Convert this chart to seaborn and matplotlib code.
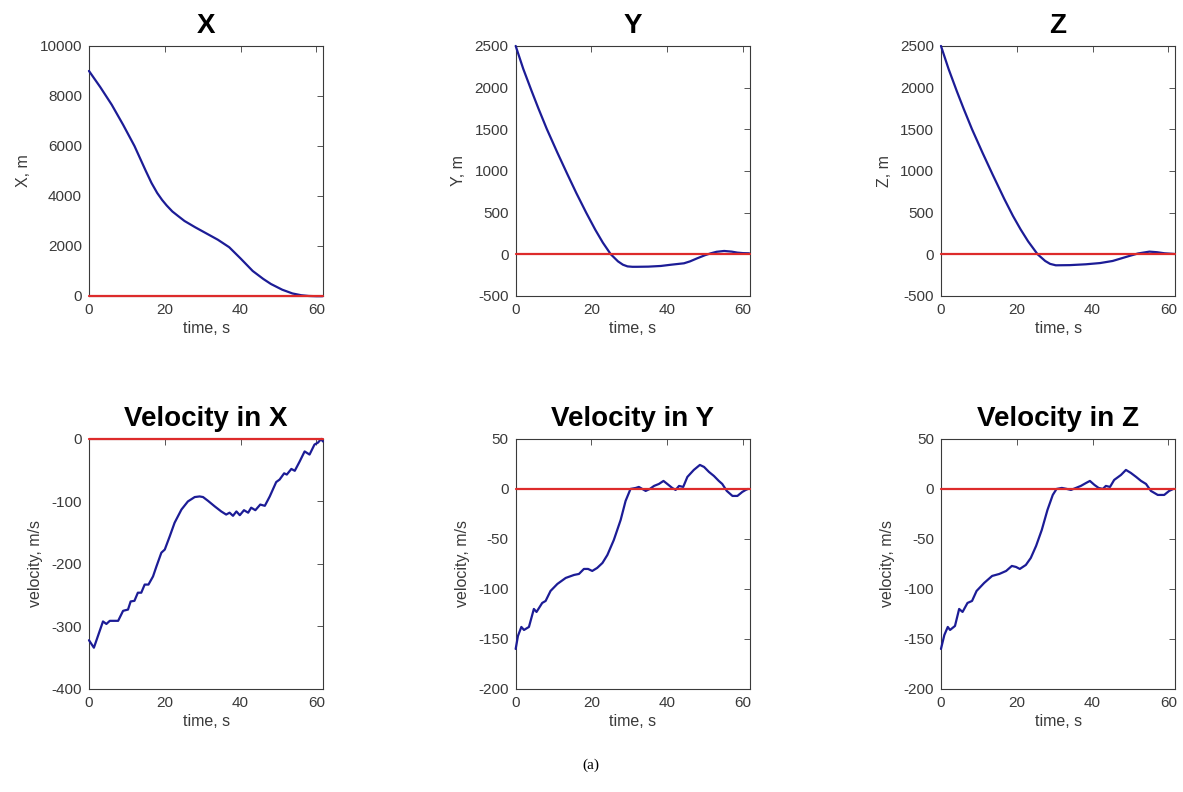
import matplotlib
matplotlib.use("Agg")
import matplotlib.pyplot as plt
import seaborn as sns

# ── position, m ──────────────────────────────────────────────────────────────
PX_T = [0, 3, 6, 9, 12, 15, 16.5, 18, 19.3, 20.5, 22, 23.5, 25.2, 28, 31, 34,
        37, 40, 43.2, 46, 48, 51, 53.7, 56, 58, 60, 61.6]
PX = [9000, 8350, 7650, 6850, 6000, 5000, 4520, 4120, 3840, 3620, 3380, 3200,
      3000, 2750, 2500, 2250, 1950, 1500, 1000, 680, 480, 250, 100, 30, 0,
      -10, -10]

PY_T = [0, 2, 4.2, 6, 8.2, 11, 13.6, 16, 18.6, 21, 23, 25.1, 27, 28.3, 29.5,
        30.8, 32, 35, 38.3, 41, 44.4, 46, 47.9, 50, 51.5, 53, 55, 57, 58.5,
        60, 61.6]
PY = [2500, 2225, 1960, 1750, 1505, 1220, 965, 735, 500, 295, 140, 0, -85,
      -125, -145, -150, -150, -148, -140, -125, -108, -85, -48, -10, 12, 30,
      40, 32, 20, 14, 12]

PZ_T = [0, 2, 4.2, 6, 8.2, 11, 13.6, 16.7, 19, 21, 23, 25.5, 27.5, 28.8,
        30.3, 34, 38.2, 42, 45.3, 47.5, 49.7, 52, 55, 57, 59, 61.6]
PZ = [2500, 2225, 1955, 1745, 1500, 1215, 960, 665, 460, 300, 155, 0, -80,
      -115, -132, -130, -120, -105, -80, -50, -20, 10, 32, 25, 12, 4]

# ── velocity, m/s ────────────────────────────────────────────────────────────
VX_T = [0, 1.3, 3.7, 4.6, 5.5, 7.7, 9, 10.3, 11, 12, 12.9, 13.8, 14.7, 15.7,
        16.9, 17.8, 19.1, 20, 21.3, 22.6, 24.4, 26.1, 27.9, 29.2, 30.1, 31.4,
        33.2, 34.9, 36.2, 37.1, 38, 38.9, 39.8, 40.9, 42, 42.8, 43.9, 45.2,
        46.4, 47.7, 49.4, 50.3, 51.5, 52.2, 53.4, 54.3, 55.6, 56.9, 58.2,
        59.5, 60.4, 61.3, 61.7]
VX = [-322, -334, -292, -296, -291, -291, -275, -273, -260, -259, -246, -246,
      -233, -233, -220, -204, -182, -177, -156, -134, -113, -100, -93, -92,
      -93, -99, -108, -116, -121, -118, -123, -116, -122, -114, -118, -110,
      -114, -105, -107, -92, -69, -65, -55, -57, -48, -51, -36, -20, -25, -9,
      -6, 0, -4]

VY_T = [0, 0.6, 1.5, 2.2, 3.5, 4.8, 5.5, 7, 7.9, 9.2, 11, 13.2, 15.4, 16.7,
        18, 19.1, 20.2, 21.5, 22.9, 24.2, 25.9, 27.7, 29, 30.3, 31.7, 32.5,
        33.4, 34.3, 35.4, 36.5, 37.8, 39, 40, 41.3, 42.2, 43.1, 44.2, 45.3,
        47, 48.6, 49.7, 51, 52.3, 53.6, 54.5, 55.7, 57.2, 58.5, 59.8, 60.7,
        61.3]
VY = [-160, -147, -138, -141, -138, -120, -123, -114, -112, -102, -95, -89,
      -86, -85, -80, -80, -82, -79, -74, -66, -51, -31, -12, 0, 1, 2, 0, -2,
      0, 3, 5, 8, 5, 1, -1, 3, 2, 12, 19, 24, 22, 17, 13, 8, 5, -2, -7, -7,
      -3, -1, 0]

VZ_T = [0, 0.9, 1.8, 2.4, 3.7, 4.8, 5.7, 7, 8.2, 9.4, 11.4, 13.5, 15.4, 17.2,
        18.7, 19.8, 20.8, 22.4, 23.7, 25.1, 26.6, 28.1, 29.5, 30.5, 31.9,
        33.2, 34.3, 35.6, 36.9, 38.3, 39.3, 40.5, 41.6, 42.7, 43.5, 44.6,
        45.7, 47.5, 48.8, 50.1, 51.5, 52.8, 54.1, 55.4, 57.2, 58.9, 60.2,
        61.3]
VZ = [-160, -146, -138, -141, -137, -120, -123, -114, -112, -102, -94, -87,
      -85, -82, -77, -78, -80, -76, -69, -57, -41, -21, -6, 0, 1, 0, -1, 1, 3,
      6, 8, 4, 1, 0, 3, 2, 9, 14, 19, 16, 12, 8, 5, -2, -6, -6, -2, 0]

# ── reference (target) line ──────────────────────────────────────────────────
REF_T = [0, 61.8]
REF = [0, 0]

TITLES = ["X", "Y", "Z", "Velocity in X", "Velocity in Y", "Velocity in Z"]
YLABELS = ["X, m", "Y, m", "Z, m", "velocity, m/s", "velocity, m/s", "velocity, m/s"]
YLIMS = [(0, 10000), (-500, 2500), (-500, 2500), (-400, 0), (-200, 50), (-200, 50)]
YTICKS = [
    [0, 2000, 4000, 6000, 8000, 10000],
    [-500, 0, 500, 1000, 1500, 2000, 2500],
    [-500, 0, 500, 1000, 1500, 2000, 2500],
    [-400, -300, -200, -100, 0],
    [-200, -150, -100, -50, 0, 50],
    [-200, -150, -100, -50, 0, 50],
]
SERIES = [(PX_T, PX), (PY_T, PY), (PZ_T, PZ), (VX_T, VX), (VY_T, VY), (VZ_T, VZ)]

sns.set_theme(style="white")
plt.rcParams["font.family"] = ["Liberation Sans", "DejaVu Sans"]
plt.rcParams["axes.unicode_minus"] = False

fig = plt.figure(figsize=(11.83, 7.92), dpi=100)

lefts = [0.0752, 0.4359, 0.7954]
bottoms = [0.6263, 0.1301]
w, h = 0.1980, 0.3157

GRAY = "#3a3a3a"
BLUE = "#1c1c96"
RED = "#dd2b2b"

for i in range(6):
    r, c = divmod(i, 3)
    ax = fig.add_axes([lefts[c], bottoms[r], w, h])
    t, v = SERIES[i]
    sns.lineplot(x=t, y=v, ax=ax, color=BLUE, linewidth=1.6, zorder=3)
    sns.lineplot(x=REF_T, y=REF, ax=ax, color=RED, linewidth=1.6, zorder=3.5)
    for ln in ax.get_lines():
        ln.set_clip_on(False)
    ax.set_xlim(0, 61.8)
    ax.set_ylim(*YLIMS[i])
    ax.set_xticks([0, 20, 40, 60])
    ax.set_yticks(YTICKS[i])
    ax.set_title(TITLES[i], fontsize=20, fontweight="bold", color="black", pad=9)
    ax.set_xlabel("time, s", fontsize=11.5, color=GRAY, labelpad=3)
    ax.set_ylabel(YLABELS[i], fontsize=11.5, color=GRAY, labelpad=6)
    ax.tick_params(direction="in", length=4, width=0.6, colors=GRAY,
                   labelsize=11, top=True, right=True, pad=5)
    for sp in ax.spines.values():
        sp.set_color(GRAY)
        sp.set_linewidth(0.8)

fig.text(0.4995, 0.034, "(a)", fontsize=11, family=["Liberation Serif", "DejaVu Serif"],
         ha="center", va="center", color="black")

fig.savefig("out.png", dpi=100)
